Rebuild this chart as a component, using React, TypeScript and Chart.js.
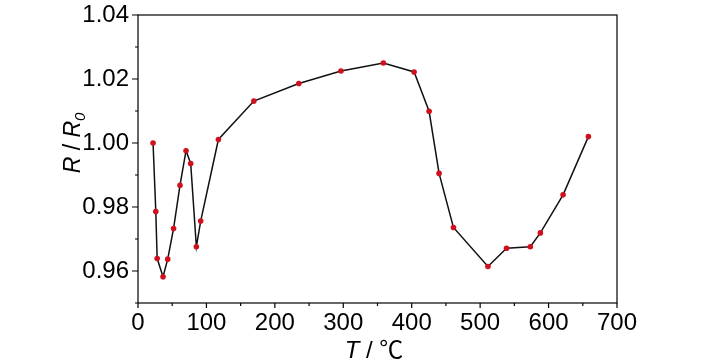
import React, { useEffect, useRef } from 'react';
import { Chart, registerables } from 'chart.js';

Chart.register(...registerables);

const T_VALUES = [22, 26, 28, 36.6, 43.4, 52, 61.4, 70.2, 77, 85.3, 91.6, 117.5, 169.3, 235, 296.6, 358.6, 403.5, 425.4, 440, 461, 511.4, 538.6, 573.3, 588, 621.2, 658.2];
const R_VALUES = [1.0, 0.9786, 0.9639, 0.9582, 0.9637, 0.9733, 0.9868, 0.9976, 0.9936, 0.9676, 0.9756, 1.0011, 1.0131, 1.0186, 1.0225, 1.025, 1.0222, 1.0099, 0.9905, 0.9736, 0.9614, 0.9671, 0.9676, 0.9719, 0.9838, 1.002];

const X_TICKS = [0, 100, 200, 300, 400, 500, 600, 700];
const X_MINOR = [50, 150, 250, 350, 450, 550, 650];
const Y_TICKS = [0.96, 0.98, 1.0, 1.02, 1.04];
const Y_MINOR = [0.95, 0.97, 0.99, 1.01, 1.03];

const FONT_FAMILY = "'Liberation Sans Narrow', 'Liberation Sans', Arial, sans-serif";

const framePlugin = {
  id: 'frameAndTitles',
  beforeDatasetsDraw(chart: any) {
    const { ctx, chartArea: a, scales } = chart;
    const x = scales.x;
    const y = scales.y;
    ctx.save();
    ctx.strokeStyle = '#000';
    ctx.lineWidth = 1.2;
    ctx.strokeRect(a.left, a.top, a.right - a.left, a.bottom - a.top);
    ctx.beginPath();
    X_TICKS.forEach((v) => {
      const p = x.getPixelForValue(v);
      ctx.moveTo(p, a.bottom);
      ctx.lineTo(p, a.bottom + 5);
    });
    X_MINOR.forEach((v) => {
      const p = x.getPixelForValue(v);
      ctx.moveTo(p, a.bottom);
      ctx.lineTo(p, a.bottom + 3);
    });
    Y_TICKS.forEach((v) => {
      const p = y.getPixelForValue(v);
      ctx.moveTo(a.left, p);
      ctx.lineTo(a.left - 6, p);
    });
    Y_MINOR.forEach((v) => {
      const p = y.getPixelForValue(v);
      ctx.moveTo(a.left, p);
      ctx.lineTo(a.left - 3, p);
    });
    ctx.stroke();
    ctx.restore();
  },
  afterDraw(chart: any) {
    const { ctx, chartArea: a } = chart;
    ctx.save();
    ctx.fillStyle = '#000';
    ctx.textBaseline = 'alphabetic';
    const italic = `italic 23px ${FONT_FAMILY}`;
    const normal = `23px ${FONT_FAMILY}`;
    const sub = `italic 15px ${FONT_FAMILY}`;
    const yParts = [
      { t: 'R', f: italic, dy: 0 },
      { t: ' / ', f: normal, dy: 0 },
      { t: 'R', f: italic, dy: 0 },
      { t: '0', f: sub, dy: 5 },
    ];
    let total = 0;
    yParts.forEach((p) => { ctx.font = p.f; total += ctx.measureText(p.t).width; });
    ctx.translate(80, 143);
    ctx.rotate(-Math.PI / 2);
    let cx = -total / 2;
    yParts.forEach((p) => {
      ctx.font = p.f;
      ctx.fillText(p.t, cx, p.dy);
      cx += ctx.measureText(p.t).width;
    });
    ctx.setTransform(1, 0, 0, 1, 0, 0);
    const xParts = [
      { t: 'T', f: `italic 24px ${FONT_FAMILY}` },
      { t: ' / ', f: `24px ${FONT_FAMILY}` },
      { t: '℃', f: `24px 'Noto Sans CJK SC', ${FONT_FAMILY}` },
    ];
    total = 0;
    xParts.forEach((p) => { ctx.font = p.f; total += ctx.measureText(p.t).width; });
    cx = 374 - total / 2;
    xParts.forEach((p) => {
      ctx.font = p.f;
      ctx.fillText(p.t, cx, 358);
      cx += ctx.measureText(p.t).width;
    });
    ctx.restore();
  },
};

export default function App() {
  const ref = useRef<HTMLCanvasElement | null>(null);
  useEffect(() => {
    if (!ref.current) return;
    const data = T_VALUES.map((t, i) => ({ x: t, y: R_VALUES[i] }));
    const chart = new Chart(ref.current, {
      type: 'scatter',
      data: {
        datasets: [
          {
            data,
            showLine: true,
            borderColor: '#111',
            borderWidth: 1.5,
            pointRadius: 2.8,
            pointBorderWidth: 0,
            pointBackgroundColor: '#d0101c',
            pointBorderColor: '#d0101c',
          },
        ],
      },
      options: {
        responsive: false,
        animation: false,
        layout: { padding: { left: 0, right: 111, top: 15, bottom: 0 } },
        plugins: { legend: { display: false }, tooltip: { enabled: false }, title: { display: false } },
        scales: {
          x: {
            type: 'linear',
            min: 0,
            max: 700,
            grid: { display: false, drawTicks: false },
            border: { display: false },
            afterFit: (s: any) => { s.height = 61; s.paddingLeft = 0; s.paddingRight = 0; },
            afterBuildTicks: (s: any) => { s.ticks = X_TICKS.map((v) => ({ value: v })); },
            ticks: {
              padding: 6,
              color: '#000',
              font: { family: FONT_FAMILY, size: 24 },
              maxRotation: 0,
              callback: (v: any) => String(v),
            },
          },
          y: {
            type: 'linear',
            min: 0.95,
            max: 1.04,
            grid: { display: false, drawTicks: false },
            border: { display: false },
            afterFit: (s: any) => { s.width = 138; s.paddingTop = 0; s.paddingBottom = 0; },
            afterBuildTicks: (s: any) => { s.ticks = Y_TICKS.map((v) => ({ value: v })); },
            ticks: {
              padding: 9,
              color: '#000',
              font: { family: FONT_FAMILY, size: 24 },
              callback: (v: any) => Number(v).toFixed(2),
            },
          },
        },
      },
      plugins: [framePlugin],
    });
    return () => chart.destroy();
  }, []);
  return (
    <div style={{ position: 'fixed', left: 0, top: 0, width: 728, height: 364, background: '#fff' }}>
      <canvas ref={ref} width={728} height={364} />
    </div>
  );
}
